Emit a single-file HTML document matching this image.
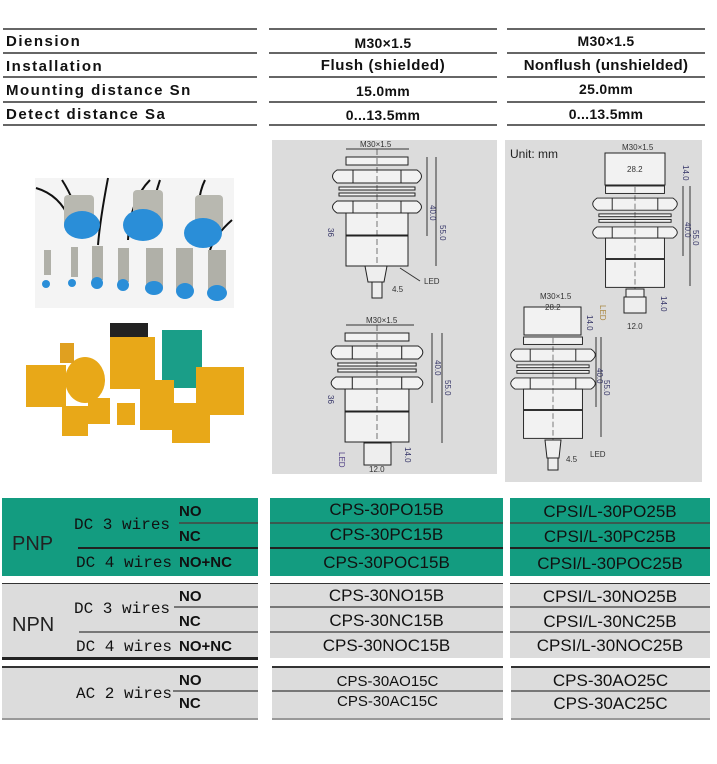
<!DOCTYPE html>
<html><head><meta charset="utf-8"><style>
body{margin:0;width:717px;height:764px;background:#fff;position:relative;overflow:hidden;font-family:"Liberation Sans",sans-serif}
.a{position:absolute}
.hl{position:absolute;height:2px;background:#666}
.t{position:absolute;font-weight:bold;font-size:15px;color:#111;letter-spacing:1.5px;line-height:18px}
.c{text-align:center}
.m{position:absolute;font-size:17px;color:#111;text-align:center;line-height:20px}
.w{position:absolute;font-family:"Liberation Mono",monospace;font-size:16px;color:#111;line-height:18px}
.s{position:absolute;font-weight:bold;font-size:15px;color:#111;line-height:18px}
</style></head><body>
<div class="hl" style="left:3px;top:28px;width:254px"></div>
<div class="hl" style="left:269px;top:28px;width:228px"></div>
<div class="hl" style="left:507px;top:28px;width:198px"></div>
<div class="hl" style="left:3px;top:52px;width:254px"></div>
<div class="hl" style="left:269px;top:52px;width:228px"></div>
<div class="hl" style="left:507px;top:52px;width:198px"></div>
<div class="hl" style="left:3px;top:76px;width:254px"></div>
<div class="hl" style="left:269px;top:76px;width:228px"></div>
<div class="hl" style="left:507px;top:76px;width:198px"></div>
<div class="hl" style="left:3px;top:101px;width:254px"></div>
<div class="hl" style="left:269px;top:101px;width:228px"></div>
<div class="hl" style="left:507px;top:101px;width:198px"></div>
<div class="hl" style="left:3px;top:124px;width:254px"></div>
<div class="hl" style="left:269px;top:124px;width:228px"></div>
<div class="hl" style="left:507px;top:124px;width:198px"></div>
<div class="t" style="left:6px;top:33px">Diension</div>
<div class="t" style="left:6px;top:58px">Installation</div>
<div class="t" style="left:6px;top:82px">Mounting distance Sn</div>
<div class="t" style="left:6px;top:106px">Detect distance Sa</div>
<div class="t c" style="left:269px;width:228px;top:34px;font-size:14px;letter-spacing:0.3px">M30×1.5</div>
<div class="t c" style="left:269px;width:228px;top:57px;letter-spacing:0.6px">Flush (shielded)</div>
<div class="t c" style="left:269px;width:228px;top:82px;font-size:14px;letter-spacing:0.3px">15.0mm</div>
<div class="t c" style="left:269px;width:228px;top:106px;font-size:14px;letter-spacing:0.3px">0...13.5mm</div>
<div class="t c" style="left:507px;width:198px;top:32px;font-size:14px;letter-spacing:0.3px">M30×1.5</div>
<div class="t c" style="left:507px;width:198px;top:57px;letter-spacing:0.3px">Nonflush (unshielded)</div>
<div class="t c" style="left:507px;width:198px;top:80px;font-size:14px;letter-spacing:0.3px">25.0mm</div>
<div class="t c" style="left:507px;width:198px;top:105px;font-size:14px;letter-spacing:0.3px">0...13.5mm</div>

<svg class="a" style="left:0;top:140px" width="270" height="320">
<rect x="35" y="38" width="199" height="130" fill="#f4f4f4"/>
<g stroke="#111" stroke-width="2" fill="none">
<path d="M36 48 Q60 55 70 80"/><path d="M62 40 Q75 60 85 95"/><path d="M108 38 Q100 80 98 105"/><path d="M150 40 Q130 60 128 100"/><path d="M160 40 Q150 70 148 100"/><path d="M205 40 Q195 60 200 95"/><path d="M232 80 Q215 95 210 110"/>
</g>
<g fill="#b8b8b0"><rect x="64" y="55" width="30" height="35" rx="4"/><rect x="133" y="50" width="30" height="38" rx="4"/><rect x="195" y="55" width="28" height="35" rx="4"/></g>
<g fill="#2a8ed8"><ellipse cx="82" cy="85" rx="18" ry="14"/><ellipse cx="143" cy="85" rx="20" ry="16"/><ellipse cx="203" cy="93" rx="19" ry="15"/></g>
<g fill="#b0b0a8"><rect x="44" y="110" width="7" height="25"/><rect x="71" y="107" width="7" height="30"/><rect x="92" y="106" width="11" height="34"/><rect x="118" y="108" width="11" height="34"/><rect x="146" y="108" width="17" height="40"/><rect x="176" y="108" width="17" height="42"/><rect x="208" y="110" width="18" height="42"/></g>
<g fill="#2a8ed8"><circle cx="46" cy="144" r="4"/><circle cx="72" cy="143" r="4"/><circle cx="97" cy="143" r="6"/><circle cx="123" cy="145" r="6"/><ellipse cx="154" cy="148" rx="9" ry="7"/><ellipse cx="185" cy="151" rx="9" ry="8"/><ellipse cx="217" cy="153" rx="10" ry="8"/></g>
<rect x="110" y="183" width="38" height="18" fill="#222"/>
<rect x="110" y="197" width="45" height="52" fill="#e8a818"/>
<rect x="162" y="190" width="40" height="58" fill="#1a9e88"/>
<rect x="26" y="225" width="40" height="42" fill="#e8a818"/>
<ellipse cx="85" cy="240" rx="20" ry="23" fill="#e8a818"/>
<rect x="60" y="203" width="14" height="20" fill="#e0a020"/>
<rect x="196" y="227" width="48" height="48" fill="#e8a818"/>
<rect x="140" y="240" width="34" height="50" fill="#e8a818"/>
<rect x="172" y="263" width="38" height="40" fill="#e8a818"/>
<rect x="62" y="266" width="26" height="30" fill="#e8a818"/>
<rect x="88" y="258" width="22" height="26" fill="#e8a818"/>
<rect x="117" y="263" width="18" height="22" fill="#e8a818"/>
</svg>

<div class="a" style="left:272px;top:140px;width:225px;height:334px;background:#dcdcdc"></div>
<div class="a" style="left:505px;top:140px;width:197px;height:342px;background:#dcdcdc"></div>
<svg class="a" style="left:0;top:0" width="717" height="490" font-family="Liberation Sans,sans-serif">
<defs>
<g id="sen" stroke="#222" stroke-width="1" fill="#f2f2f2">
<rect x="-31" y="0" width="62" height="8"/>
<path d="M-40 13 H40 Q49 19 40 26 H-40 Q-49 19 -40 13Z"/>
<line x1="-24" y1="13" x2="-24" y2="26"/><line x1="24" y1="13" x2="24" y2="26"/>
<rect x="-38" y="30" width="76" height="3"/><rect x="-38" y="36" width="76" height="3"/>
<path d="M-40 44 H40 Q49 50 40 56 H-40 Q-49 50 -40 44Z"/>
<line x1="-24" y1="44" x2="-24" y2="56"/><line x1="24" y1="44" x2="24" y2="56"/>
<rect x="-31" y="56" width="62" height="22"/>
<rect x="-31" y="79" width="62" height="30"/>
<line x1="0" y1="-8" x2="0" y2="125" stroke-dasharray="6 3" stroke-width="0.6"/>
</g>
</defs>
<g font-size="8" fill="#333">
<use href="#sen" x="377" y="157"/>
<path d="M365 266 h22 l-3 16 h-16z M372 282 h10 v16 h-10z" fill="#eee" stroke="#222"/>
<line x1="346" y1="149" x2="409" y2="149" stroke="#333"/><text x="360" y="147">M30×1.5</text>
<line x1="427" y1="157" x2="427" y2="236" stroke="#333"/><line x1="436" y1="157" x2="436" y2="266" stroke="#333"/>
<text x="430" y="205" transform="rotate(90 430 205)" fill="#336">40.0</text><text x="440" y="225" transform="rotate(90 440 225)" fill="#336">55.0</text>
<text x="328" y="228" transform="rotate(90 328 228)" fill="#336">36</text>
<text x="392" y="292">4.5</text><text x="424" y="284">LED</text><line x1="400" y1="268" x2="420" y2="281" stroke="#333"/>
<use href="#sen" x="377" y="333" transform="translate(377 333) scale(1.03 1) translate(-377 -333)"/>
<rect x="364" y="443" width="27" height="22" fill="#eee" stroke="#222"/>
<line x1="346" y1="325" x2="414" y2="325" stroke="#333"/><text x="366" y="323">M30×1.5</text>
<line x1="432" y1="333" x2="432" y2="403" stroke="#333"/><line x1="442" y1="333" x2="442" y2="443" stroke="#333"/>
<text x="435" y="360" transform="rotate(90 435 360)" fill="#336">40.0</text><text x="445" y="380" transform="rotate(90 445 380)" fill="#336">55.0</text>
<text x="405" y="447" transform="rotate(90 405 447)" fill="#336">14.0</text><text x="369" y="472">12.0</text>
<text x="328" y="395" transform="rotate(90 328 395)" fill="#336">36</text>
<text x="339" y="452" transform="rotate(90 339 452)" fill="#554488">LED</text>
<text x="510" y="158" font-size="12" fill="#222">Unit: mm</text>
<use href="#sen" transform="translate(635 186) scale(0.95 0.93)"/>
<rect x="605" y="153" width="60" height="32" fill="#f2f2f2" stroke="#222"/>
<rect x="626" y="289" width="18" height="8" fill="#eee" stroke="#222"/><rect x="624" y="297" width="22" height="16" fill="#eee" stroke="#222"/>
<text x="622" y="150">M30×1.5</text><text x="627" y="172">28.2</text>
<line x1="683" y1="186" x2="683" y2="256" stroke="#333"/><line x1="690" y1="186" x2="690" y2="286" stroke="#333"/>
<text x="685" y="222" transform="rotate(90 685 222)" fill="#336">40.0</text><text x="693" y="230" transform="rotate(90 693 230)" fill="#336">55.0</text>
<text x="683" y="165" transform="rotate(90 683 165)" fill="#336">14.0</text><text x="661" y="296" transform="rotate(90 661 296)" fill="#336">14.0</text>
<text x="627" y="329">12.0</text><text x="600" y="305" transform="rotate(90 600 305)" fill="#aa8844">LED</text>
<use href="#sen" transform="translate(553 337) scale(0.95 0.93)"/>
<rect x="524" y="307" width="57" height="28" fill="#f2f2f2" stroke="#222"/>
<path d="M545 440 h16 l-2 18 h-12z M548 458 h10 v12 h-10z" fill="#eee" stroke="#222"/>
<text x="540" y="299">M30×1.5</text><text x="545" y="310">28.2</text>
<line x1="596" y1="337" x2="596" y2="407" stroke="#333"/><line x1="601" y1="337" x2="601" y2="437" stroke="#333"/>
<text x="597" y="368" transform="rotate(90 597 368)" fill="#336">40.0</text><text x="604" y="380" transform="rotate(90 604 380)" fill="#336">55.0</text>
<text x="587" y="315" transform="rotate(90 587 315)" fill="#336">14.0</text>
<text x="566" y="462">4.5</text><text x="590" y="457">LED</text>
</g>
</svg>

<div class="a" style="left:2px;top:498px;width:256px;height:78px;background:#139c80"></div>
<div class="a" style="left:270px;top:498px;width:233px;height:78px;background:#139c80"></div>
<div class="a" style="left:510px;top:498px;width:200px;height:78px;background:#139c80"></div>
<div class="a" style="left:2px;top:583px;width:256px;height:74px;background:#dcdcdc;border-top:1px solid #333"></div>
<div class="a" style="left:270px;top:583px;width:233px;height:74px;background:#dcdcdc;border-top:1px solid #333"></div>
<div class="a" style="left:510px;top:583px;width:200px;height:74px;background:#dcdcdc;border-top:1px solid #333"></div>
<div class="a" style="left:2px;top:657px;width:256px;height:3px;background:#222"></div>
<div class="a" style="left:2px;top:666px;width:256px;height:50px;background:#dcdcdc;border-top:2px solid #333;border-bottom:2px solid #999"></div>
<div class="a" style="left:272px;top:666px;width:231px;height:50px;background:#dcdcdc;border-top:2px solid #333;border-bottom:2px solid #999"></div>
<div class="a" style="left:511px;top:666px;width:199px;height:50px;background:#dcdcdc;border-top:2px solid #333;border-bottom:2px solid #999"></div>
<div class="hl" style="left:179px;top:522px;width:79px;background:#3a5a50"></div>
<div class="hl" style="left:78px;top:547px;width:180px;background:#222"></div>
<div class="hl" style="left:270px;top:522px;width:233px;background:#3a5a50"></div>
<div class="hl" style="left:270px;top:547px;width:233px;background:#222"></div>
<div class="hl" style="left:510px;top:522px;width:200px;background:#3a5a50"></div>
<div class="hl" style="left:510px;top:547px;width:200px;background:#222"></div>
<div class="hl" style="left:174px;top:606px;width:84px;background:#777"></div>
<div class="hl" style="left:79px;top:631px;width:179px;background:#777"></div>
<div class="hl" style="left:270px;top:606px;width:233px;background:#777"></div>
<div class="hl" style="left:270px;top:631px;width:233px;background:#777"></div>
<div class="hl" style="left:510px;top:606px;width:200px;background:#777"></div>
<div class="hl" style="left:510px;top:631px;width:200px;background:#777"></div>
<div class="hl" style="left:173px;top:690px;width:85px;background:#777"></div>
<div class="hl" style="left:272px;top:690px;width:231px;background:#777"></div>
<div class="hl" style="left:511px;top:690px;width:199px;background:#777"></div>
<div class="a" style="left:12px;top:533px;font-size:20px;color:#222">PNP</div>
<div class="a" style="left:12px;top:614px;font-size:20px;color:#222">NPN</div>
<div class="w" style="left:74px;top:516px">DC 3 wires</div>
<div class="w" style="left:76px;top:554px">DC 4 wires</div>
<div class="w" style="left:74px;top:600px">DC 3 wires</div>
<div class="w" style="left:76px;top:638px">DC 4 wires</div>
<div class="w" style="left:76px;top:685px">AC 2 wires</div>
<div class="s" style="left:179px;top:503px">NO</div>
<div class="s" style="left:179px;top:528px">NC</div>
<div class="s" style="left:179px;top:554px">NO+NC</div>
<div class="s" style="left:179px;top:588px">NO</div>
<div class="s" style="left:179px;top:613px">NC</div>
<div class="s" style="left:179px;top:638px">NO+NC</div>
<div class="s" style="left:179px;top:672px">NO</div>
<div class="s" style="left:179px;top:695px">NC</div>
<div class="m" style="left:270px;width:233px;top:500px">CPS-30PO15B</div>
<div class="m" style="left:270px;width:233px;top:525px">CPS-30PC15B</div>
<div class="m" style="left:270px;width:233px;top:553px">CPS-30POC15B</div>
<div class="m" style="left:270px;width:233px;top:586px">CPS-30NO15B</div>
<div class="m" style="left:270px;width:233px;top:611px">CPS-30NC15B</div>
<div class="m" style="left:270px;width:233px;top:636px">CPS-30NOC15B</div>
<div class="m" style="left:272px;width:231px;top:672px;font-size:15px">CPS-30AO15C</div>
<div class="m" style="left:272px;width:231px;top:692px;font-size:15px">CPS-30AC15C</div>
<div class="m" style="left:510px;width:200px;top:502px">CPSI/L-30PO25B</div>
<div class="m" style="left:510px;width:200px;top:527px">CPSI/L-30PC25B</div>
<div class="m" style="left:510px;width:200px;top:554px">CPSI/L-30POC25B</div>
<div class="m" style="left:510px;width:200px;top:587px">CPSI/L-30NO25B</div>
<div class="m" style="left:510px;width:200px;top:612px">CPSI/L-30NC25B</div>
<div class="m" style="left:510px;width:200px;top:636px">CPSI/L-30NOC25B</div>
<div class="m" style="left:511px;width:199px;top:671px">CPS-30AO25C</div>
<div class="m" style="left:511px;width:199px;top:694px">CPS-30AC25C</div>
</body></html>
